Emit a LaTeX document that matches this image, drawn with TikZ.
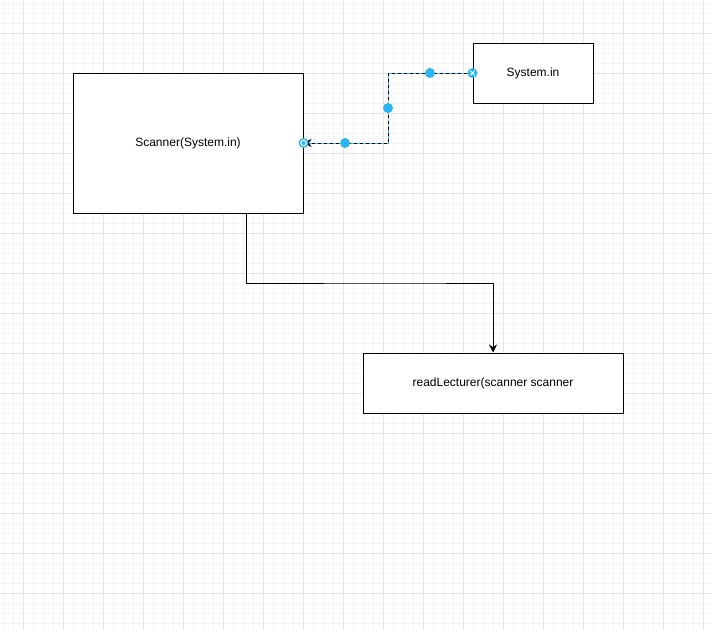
\documentclass[tikz,border=0pt]{standalone}
\usepackage{fontspec}
\setmainfont{Liberation Sans}
\usetikzlibrary{arrows.meta}

\definecolor{handle}{RGB}{41,182,242}
\definecolor{gridminor}{RGB}{245,245,245}
\definecolor{gridmajor}{RGB}{228,228,228}

\tikzset{
  block/.style={draw, line width=1pt, fill=white, inner sep=0pt,
    font=\fontsize{12}{14}\selectfont},
  link/.style={line width=1pt, -{Stealth[length=8pt,width=8pt]}},
  knob/.style={circle, fill=handle, minimum size=10pt, inner sep=0pt},
}

\begin{document}
\begin{tikzpicture}[x=1pt, y=-1pt]
  \useasboundingbox[fill=white] (0,0) rectangle (711,630);

  % background grid
  \foreach \x in {3,13,...,703} {
    \draw[gridminor, line width=1pt] (\x,0) -- (\x,630);
  }
  \foreach \y in {3,13,...,623} {
    \draw[gridminor, line width=1pt] (0,\y) -- (711,\y);
  }
  \foreach \x in {23,63,...,703} {
    \draw[gridmajor, line width=1pt] (\x,0) -- (\x,630);
  }
  \foreach \y in {33,73,...,623} {
    \draw[gridmajor, line width=1pt] (0,\y) -- (711,\y);
  }

  % boxes
  \node[block, minimum width=230pt, minimum height=140pt] (scanner) at (188,143) {Scanner(System.in)};
  \node[block, minimum width=120pt, minimum height=60pt] (sysin) at (533,73) {System.in};
  \node[block, minimum width=260pt, minimum height=60pt] (readlec) at (493,383) {readLecturer(scanner scanner};

  % selected edge
  \coordinate (elbow) at (388,108);
  \draw[handle, line width=1pt] (sysin.west) -| (elbow) |- (scanner.east);
  \draw[link, dash pattern=on 3pt off 3pt] (sysin.west) -| (elbow) |- (scanner.east);

  % edge handles
  \node[knob] (k1) at (430,73) {};
  \node[knob] (k2) at (elbow) {};
  \node[knob] (k3) at (345,143) {};
  \node[knob] (src) at (sysin.west) {};
  \draw[white, line width=1pt] ([shift={(-2.2,-2.2)}]src.center) -- ([shift={(2.2,2.2)}]src.center);
  \draw[white, line width=1pt] ([shift={(-2.2,2.2)}]src.center) -- ([shift={(2.2,-2.2)}]src.center);
  \node[knob] (dst) at (scanner.east) {};
  \node[circle, draw=white, line width=1pt, minimum size=5.5pt, inner sep=0pt] (dstring) at (dst) {};

  % call edge
  \coordinate (bend) at (400,283);
  \draw[link] ([xshift=58pt]scanner.south) |- (bend) -| (readlec.north);
\end{tikzpicture}
\end{document}
